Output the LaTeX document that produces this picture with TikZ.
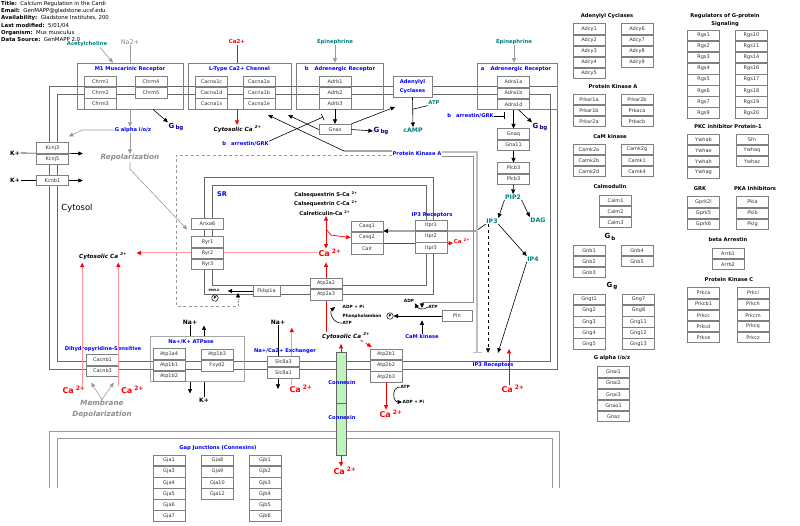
\documentclass[tikz,border=0pt]{standalone}
\usepackage{fontspec}
\setmainfont{DejaVu Sans}
\usetikzlibrary{positioning, backgrounds, arrows.meta, calc}

\definecolor{cxgreen}{RGB}{190,245,190}
\definecolor{gbgblue}{RGB}{0,0,150}
\definecolor{molteal}{RGB}{0,128,128}
\definecolor{lblblue}{RGB}{0,0,255}

\newcommand{\twop}{\hspace{2pt}\textsuperscript{2+}}
\newcommand{\gsub}[1]{G\,\raisebox{-1.6pt}{\fontsize{5.5}{6}\selectfont #1}}

\begin{document}
\begin{tikzpicture}[
  x=1pt, y=-1pt,
  >={Triangle[length=4.5pt,width=4pt]},
  node distance=0pt,
  gene/.style={draw=black!50, fill=white, line width=0.6pt, minimum width=32pt,
               minimum height=10.5pt, inner sep=0pt, text=black!80,
               font=\fontsize{5}{6}\selectfont},
  grp/.style 2 args={draw=black!50, line width=0.7pt, minimum width=#1,
               minimum height=#2, inner sep=0pt},
  ttl/.style={font=\fontsize{5.2}{6.3}\selectfont\bfseries, text=lblblue,
              inner sep=0.5pt, align=center},
  hd/.style={font=\fontsize{5.2}{8}\selectfont\bfseries, inner sep=0.5pt, align=center},
  mol/.style={font=\fontsize{5.3}{6}\selectfont\bfseries, text=molteal, inner sep=0.5pt},
  bigmol/.style={font=\fontsize{6.2}{7}\selectfont\bfseries, text=molteal, inner sep=0.5pt},
  cab/.style={font=\fontsize{8}{9}\selectfont\bfseries, text=red, inner sep=0.5pt},
  cas/.style={font=\fontsize{5.5}{6}\selectfont\bfseries, text=red, inner sep=0.5pt},
  cyt/.style={font=\fontsize{5.7}{6.5}\selectfont\bfseries\itshape, inner sep=0.5pt},
  gl/.style={font=\fontsize{7.2}{10.5}\selectfont\bfseries\itshape, text=black!45,
             inner sep=0.5pt, align=center},
  ion/.style={font=\fontsize{6}{7}\selectfont\bfseries, inner sep=0.5pt},
  gbg/.style={font=\fontsize{7}{8}\selectfont\bfseries, text=gbgblue, inner sep=0.5pt},
  chem/.style={font=\fontsize{4.3}{5}\selectfont\bfseries, inner sep=0.5pt},
  pcirc/.style={draw, circle, inner sep=0pt, minimum size=6.5pt, line width=0.5pt,
                font=\fontsize{4}{4}\selectfont\bfseries},
  mem/.style={draw=black!60, line width=0.7pt},
  arr/.style={->, line width=0.6pt},
  garr/.style={->, black!40, line width=0.6pt},
  karr/.style={-{Triangle[length=4.5pt,width=4pt,color=black]}, draw=black!45, line width=0.6pt},
  gline/.style={draw=black!40, line width=0.6pt},
  rarr/.style={->, red, line width=0.7pt},
  parr/.style={-{Triangle[length=4.5pt,width=4pt,color=red]}, draw=red!40, line width=1pt},
  inh/.style={-{Bar[width=7pt]}, line width=0.6pt},
  ginh/.style={-{Bar[width=9pt]}, draw=black!25, line width=1.2pt},
  dline/.style={draw=black!40, dash pattern=on 3pt off 2.5pt, line width=0.6pt},
]
\useasboundingbox (0,0) rectangle (800,526);

%% ===== HEADER =====
\node[anchor=north west, align=left, inner sep=0pt, font=\fontsize{5.4}{7.1}\selectfont] (info) at (1,1.5)
  {\textbf{Title:}\ \ Calcium Regulation in the Cardi\\
   \textbf{Email:}\ \ GenMAPP@gladstone.ucsf.edu\\
   \textbf{Availability:}\ \ Gladstone Institutes, 200\\
   \textbf{Last modified:}\ \ 5/01/04\\
   \textbf{Organism:}\ \ Mus musculus\\
   \textbf{Data Source:}\ \ GenMAPP 2.0};

%% ===== RECEPTORS ON THE MEMBRANE =====
\node[mol] (ach) at (87,44) {Acetylcholine};
\node[font=\fontsize{6.5}{7}\selectfont, text=black!45, inner sep=0.5pt] (na2) at (130,42) {Na2+};
\node[grp={106pt}{46pt}] (m1) at (130,86) {};
\node[ttl] (m1t) at (130,69) {M1 Muscarinic Receptor};
\node[gene] (Chrm1) at (100.5,81.5) {Chrm1};
\node[gene, below=of Chrm1] (Chrm2) {Chrm2};
\node[gene, below=of Chrm2] (Chrm3) {Chrm3};
\node[gene] (Chrm4) at (151,81.5) {Chrm4};
\node[gene, below=of Chrm4] (Chrm5) {Chrm5};
\node[gbg] (gbgM) at (176,127) {\gsub{bg}};

\node[cas] (catop) at (237,42) {Ca2+};
\node[grp={103pt}{46pt}] (ltype) at (239.5,86) {};
\node[ttl] (ltypet) at (239.5,69) {L-Type Ca2+ Channel};
\node[gene] (Cacna1c) at (211.5,81.5) {Cacna1c};
\node[gene, below=of Cacna1c] (Cacna1d) {Cacna1d};
\node[gene, below=of Cacna1d] (Cacna1s) {Cacna1s};
\node[gene] (Cacna1a) at (259,81.5) {Cacna1a};
\node[gene, below=of Cacna1a] (Cacna1b) {Cacna1b};
\node[gene, below=of Cacna1b] (Cacna1e) {Cacna1e};
\node[cyt] (cytT) at (237.5,129) {Cytosolic Ca\twop};

\node[mol] (epiB) at (335,42) {Epinephrine};
\node[grp={87pt}{46pt}] (adrb) at (339.5,86) {};
\node[ttl] (adrbt) at (340,69) {b\hspace{6pt}Adrenergic Receptor};
\node[gene] (Adrb1) at (335,81.5) {Adrb1};
\node[gene, below=of Adrb1] (Adrb2) {Adrb2};
\node[gene, below=of Adrb2] (Adrb3) {Adrb3};
\node[gene] (Gnas) at (335,129.5) {Gnas};
\node[gbg] (gbgS) at (381,131) {\gsub{bg}};
\node[ttl] (arrB) at (245.5,144) {b\hspace{5pt}arrestin/GRK};

\node[draw=black!50, fill=white, line width=0.7pt, minimum width=39pt, minimum height=21pt,
      inner sep=0pt, ttl, font=\fontsize{5.2}{9}\selectfont\bfseries] (ac) at (412.5,86.5)
    {Adenylyl\\Cyclases};
\node[mol] (atpAC) at (434,103) {ATP};
\node[bigmol] (camp) at (413,130) {cAMP};
\node[ttl] (pka) at (417,154) {Protein Kinase A};

\node[mol] (epiA) at (514,42) {Epinephrine};
\node[grp={80pt}{46pt}] (adra) at (517,86) {};
\node[ttl] (adrat) at (516,69) {a\hspace{6pt}Adrenergic Receptor};
\node[gene] (Adra1a) at (513.5,82) {Adra1a};
\node[gene, below=of Adra1a] (Adra1b) {Adra1b};
\node[gene, below=of Adra1b] (Adra1d) {Adra1d};
\node[ttl] (arrA) at (470.5,116) {b\hspace{5pt}arrestin/GRK};
\node[gbg] (gbgA) at (540,127) {\gsub{bg}};
\node[gene] (Gnaq) at (513.5,134) {Gnaq};
\node[gene, below=of Gnaq] (Gna11) {Gna11};
\node[gene] (plcbA) at (513.5,168) {Plcb3};
\node[gene, below=of plcbA] (plcbB) {Plcb3};
\node[bigmol] (pip2) at (513,197) {PIP2};
\node[bigmol] (ip3) at (492,221) {IP3};
\node[bigmol] (dag) at (538,220) {DAG};
\node[bigmol] (ip4) at (533,259) {IP4};

%% ===== LEFT: K+ CHANNELS =====
\node[gene] (Kcnj3) at (52.5,148) {Kcnj3};
\node[gene, below=of Kcnj3] (Kcnj5) {Kcnj5};
\node[gene] (Kcnb1) at (52.5,180.5) {Kcnb1};
\node[ion] (kL1) at (15,153) {K+};
\node[ion] (kL2) at (15,180.5) {K+};
\node[ttl] (galpha) at (133,130) {G alpha i/o/z};
\node[gl] (repol) at (130,158) {Repolarization};
\node[font=\fontsize{8.4}{9}\selectfont, inner sep=0.5pt] (cytosol) at (77,208) {Cytosol};
\node[cyt] (cytL) at (103,256) {Cytosolic Ca\twop};

%% ===== SR =====
\node[font=\fontsize{6.5}{7}\selectfont\bfseries, text=lblblue, inner sep=0.5pt] (sr) at (222,194) {SR};
\node[hd] (calsS) at (326,195) {Calsequestrin S-Ca\twop};
\node[hd] (calsC) at (326,204) {Calsequestrin C-Ca\twop};
\node[hd] (calr) at (325,213) {Calreticulin-Ca\twop};
\node[gene] (Casq1) at (367,226.5) {Casq1};
\node[gene, below=of Casq1] (Casq2) {Casq2};
\node[gene, below=of Casq2] (Calr) {Calr};
\node[ttl] (ip3rT) at (432,215) {IP3 Receptors};
\node[gene] (Itpr1) at (431,225.5) {Itpr1};
\node[gene, below=of Itpr1] (Itpr2) {Itpr2};
\node[gene, below=of Itpr2] (Itpr3) {Itpr3};
\node[cas] (caI) at (462,241) {Ca\twop};
\node[cab] (caSR) at (330,253) {Ca\twop};
\node[gene] (Anxa6) at (207.5,224) {Anxa6};
\node[gene] (Ryr1) at (207.5,242) {Ryr1};
\node[gene, below=of Ryr1] (Ryr2) {Ryr2};
\node[gene, below=of Ryr2] (Ryr3) {Ryr3};
\node[gene] (Atp2a2) at (326,283.5) {Atp2a2};
\node[gene, below=of Atp2a2] (Atp2a3) {Atp2a3};
\node[gene, minimum width=27pt] (Fkbp1a) at (266.5,291) {Fkbp1a};
\node[font=\fontsize{3}{3}\selectfont\bfseries, inner sep=0.3pt] (pbplx) at (214,290) {PBPLX};
\node[pcirc] (pcircA) at (215,298) {P};

%% ===== PHOSPHOLAMBAN / SERCA =====
\node[chem, anchor=west] (adpA) at (342,307) {ADP + Pi};
\node[chem, anchor=west] (plb) at (342,316) {Phospholamban};
\node[chem, anchor=west] (atpA) at (342,323) {ATP};
\node[pcirc] (pcircB) at (390,316) {P};
\node[chem] (adpB) at (409,301) {ADP};
\node[chem] (atpB) at (433,307) {ATP};
\node[gene, minimum width=30pt] (Pln) at (457,316) {Pln};
\node[ttl] (camk) at (422,337) {CaM kinase};
\node[cyt] (cytM) at (346,336) {Cytosolic Ca\twop};

%% ===== BOTTOM MEMBRANE =====
\node[ttl] (dhp) at (103,349) {Dihydropyridine-Sensitive};
\node[gene] (Cacnb1) at (102.5,360) {Cacnb1};
\node[gene, below=of Cacnb1] (Cacnb3) {Cacnb3};
\node[cab] (caL1) at (74,390) {Ca\twop};
\node[cab] (caL2) at (132.5,390) {Ca\twop};
\node[gl] (memdep) at (102,409) {Membrane\\Depolarization};

\node[grp={94pt}{44pt}, draw=black!35, line width=1pt] (nak) at (197,359) {};
\node[ttl] (nakt) at (191,342) {Na+/K+ ATPase};
\node[gene] (Atp1a4) at (169,354) {Atp1a4};
\node[gene, below=of Atp1a4] (Atp1b1) {Atp1b1};
\node[gene, below=of Atp1b1] (Atp1b2) {Atp1b2};
\node[gene] (Atp1b3) at (217,354.5) {Atp1b3};
\node[gene, below=of Atp1b3] (Fxyd2) {Fxyd2};
\node[ion] (naK) at (190,322) {Na+};
\node[ion] (kK) at (204,400) {K+};

\node[ttl] (ncx) at (285,351) {Na+/Ca2+ Exchanger};
\node[gene] (Slc8a3) at (283.5,361.5) {Slc8a3};
\node[gene, below=of Slc8a3] (Slc8a1) {Slc8a1};
\node[ion] (naX) at (278,322) {Na+};
\node[cab] (caX) at (301,389) {Ca\twop};

\node[draw=black!60, fill=cxgreen, minimum width=10pt, minimum height=51pt, inner sep=0pt] (conA) at (341,377.5) {};
\node[draw=black!60, fill=cxgreen, minimum width=10pt, minimum height=52pt, inner sep=0pt, below=of conA] (conB) {};
\node[ttl] (conAt) at (342,383) {Connexin};
\node[ttl] (conBt) at (342,418) {Connexin};
\node[cab] (caC) at (345,471) {Ca\twop};

\node[gene] (Atp2b1) at (386,354.5) {Atp2b1};
\node[gene, below=of Atp2b1] (Atp2b2) {Atp2b2};
\node[gene, below=of Atp2b2] (Atp2b3) {Atp2b3};
\node[chem, anchor=west] (atpC) at (400,387) {ATP};
\node[chem, anchor=west] (adpC) at (402,402) {ADP + Pi};
\node[cab] (caB) at (391,414) {Ca\twop};
\node[ttl] (ip3rB) at (493,365) {IP3 Receptors};
\node[cab] (caR) at (513,389) {Ca\twop};

%% ===== GAP JUNCTIONS =====
\node[ttl] (gapj) at (218,448) {Gap Junctions (Connexins)};
\node[gene] (Gja1) at (169,460.5) {Gja1};
\node[gene, below=of Gja1] (Gja3) {Gja3};
\node[gene, below=of Gja3] (Gja4) {Gja4};
\node[gene, below=of Gja4] (Gja5) {Gja5};
\node[gene, below=of Gja5] (Gja6) {Gja6};
\node[gene, below=of Gja6] (Gja7) {Gja7};
\node[gene] (Gja8) at (217.5,460.5) {Gja8};
\node[gene, below=of Gja8] (Gja9) {Gja9};
\node[gene, below=of Gja9] (Gja10) {Gja10};
\node[gene, below=of Gja10] (Gja12) {Gja12};
\node[gene] (Gjb1) at (265,460.5) {Gjb1};
\node[gene, below=of Gjb1] (Gjb2) {Gjb2};
\node[gene, below=of Gjb2] (Gjb3) {Gjb3};
\node[gene, below=of Gjb3] (Gjb4) {Gjb4};
\node[gene, below=of Gjb4] (Gjb5) {Gjb5};
\node[gene, below=of Gjb5] (Gjb6) {Gjb6};

%% ===== LEGEND: LEFT COLUMN =====
\node[hd] (lgAdcy) at (607,16) {Adenylyl Cyclases};
\node[gene] (Adcy1) at (589,29) {Adcy1};
\node[gene, below=of Adcy1] (Adcy2) {Adcy2};
\node[gene, below=of Adcy2] (Adcy3) {Adcy3};
\node[gene, below=of Adcy3] (Adcy4) {Adcy4};
\node[gene, below=of Adcy4] (Adcy5) {Adcy5};
\node[gene] (Adcy6) at (637,29) {Adcy6};
\node[gene, below=of Adcy6] (Adcy7) {Adcy7};
\node[gene, below=of Adcy7] (Adcy8) {Adcy8};
\node[gene, below=of Adcy8] (Adcy9) {Adcy9};

\node[hd] (lgPka) at (613,87) {Protein Kinase A};
\node[gene] (Prkar1a) at (589,99.2) {Prkar1a};
\node[gene, below=of Prkar1a] (Prkar1b) {Prkar1b};
\node[gene, below=of Prkar1b] (Prkar2a) {Prkar2a};
\node[gene] (Prkar2b) at (637,99.2) {Prkar2b};
\node[gene, below=of Prkar2b] (Prkaca) {Prkaca};
\node[gene, below=of Prkaca] (Prkacb) {Prkacb};

\node[hd] (lgCamk) at (610,137) {CaM kinase};
\node[gene] (Camk2a) at (589,149.2) {Camk2a};
\node[gene, below=of Camk2a] (Camk2b) {Camk2b};
\node[gene, below=of Camk2b] (Camk2d) {Camk2d};
\node[gene] (Camk2g) at (637,149.2) {Camk2g};
\node[gene, below=of Camk2g] (Camk1) {Camk1};
\node[gene, below=of Camk1] (Camk4) {Camk4};

\node[hd] (lgCalm) at (610,187) {Calmodulin};
\node[gene] (Calm1) at (615.5,200.2) {Calm1};
\node[gene, below=of Calm1] (Calm2) {Calm2};
\node[gene, below=of Calm2] (Calm3) {Calm3};

\node[hd, font=\fontsize{7}{8}\selectfont\bfseries] (lgGb) at (610,237) {\gsub{b}};
\node[gene] (Gnb1) at (589,250.2) {Gnb1};
\node[gene, below=of Gnb1] (Gnb2) {Gnb2};
\node[gene, below=of Gnb2] (Gnb3) {Gnb3};
\node[gene] (Gnb4) at (637,250.2) {Gnb4};
\node[gene, below=of Gnb4] (Gnb5) {Gnb5};

\node[hd, font=\fontsize{7}{8}\selectfont\bfseries] (lgGg) at (612,286) {\gsub{g}};
\node[gene] (Gngt1) at (589,299.5) {Gngt1};
\node[gene, below=of Gngt1] (Gng2) {Gng2};
\node[gene, below=of Gng2] (Gng3) {Gng3};
\node[gene, below=of Gng3] (Gng4) {Gng4};
\node[gene, below=of Gng4] (Gng5) {Gng5};
\node[gene] (Gng7) at (638.5,299.5) {Gng7};
\node[gene, below=of Gng7] (Gng8) {Gng8};
\node[gene, below=of Gng8] (Gng11) {Gng11};
\node[gene, below=of Gng11] (Gng12) {Gng12};
\node[gene, below=of Gng12] (Gng13) {Gng13};

\node[hd] (lgGai) at (612,358) {G alpha i/o/z};
\node[gene] (Gnai1) at (613.5,372) {Gnai1};
\node[gene, below=of Gnai1] (Gnai2) {Gnai2};
\node[gene, below=of Gnai2] (Gnai3) {Gnai3};
\node[gene, below=of Gnai3] (Gnao1) {Gnao1};
\node[gene, below=of Gnao1] (Gnaz) {Gnaz};

%% ===== LEGEND: RIGHT COLUMN =====
\node[hd] (lgRgs) at (725,20) {Regulators of G-protein\\Signaling};
\node[gene] (Rgs1) at (703.5,35.3) {Rgs1};
\node[gene, below=of Rgs1] (Rgs2) {Rgs2};
\node[gene, below=of Rgs2] (Rgs3) {Rgs3};
\node[gene, below=of Rgs3] (Rgs4) {Rgs4};
\node[gene, below=of Rgs4] (Rgs5) {Rgs5};
\node[gene, below=of Rgs5] (Rgs6) {Rgs6};
\node[gene, below=of Rgs6] (Rgs7) {Rgs7};
\node[gene, below=of Rgs7] (Rgs9) {Rgs9};
\node[gene] (Rgs10) at (751.5,35.3) {Rgs10};
\node[gene, below=of Rgs10] (Rgs11) {Rgs11};
\node[gene, below=of Rgs11] (Rgs14) {Rgs14};
\node[gene, below=of Rgs14] (Rgs16) {Rgs16};
\node[gene, below=of Rgs16] (Rgs17) {Rgs17};
\node[gene, below=of Rgs17] (Rgs18) {Rgs18};
\node[gene, below=of Rgs18] (Rgs19) {Rgs19};
\node[gene, below=of Rgs19] (Rgs20) {Rgs20};

\node[hd] (lgPkci) at (728,127) {PKC inhibitor Protein-1};
\node[gene] (Ywhab) at (703.5,139.3) {Ywhab};
\node[gene, below=of Ywhab] (Ywhae) {Ywhae};
\node[gene, below=of Ywhae] (Ywhah) {Ywhah};
\node[gene, below=of Ywhah] (Ywhag) {Ywhag};
\node[gene] (Sfn) at (752,139.3) {Sfn};
\node[gene, below=of Sfn] (Ywhaq) {Ywhaq};
\node[gene, below=of Ywhaq] (Ywhaz) {Ywhaz};

\node[hd] (lgGrk) at (700,189) {GRK};
\node[gene] (Gprk2l) at (703.5,202) {Gprk2l};
\node[gene, below=of Gprk2l] (Gprk5) {Gprk5};
\node[gene, below=of Gprk5] (Gprk6) {Gprk6};
\node[hd] (lgPki) at (755,189) {PKA Inhibitors};
\node[gene] (Pkia) at (752.5,202) {Pkia};
\node[gene, below=of Pkia] (Pkib) {Pkib};
\node[gene, below=of Pkib] (Pkig) {Pkig};

\node[hd] (lgArrb) at (728,240) {beta Arrestin};
\node[gene] (Arrb1) at (728,253.3) {Arrb1};
\node[gene, below=of Arrb1] (Arrb2) {Arrb2};

\node[hd] (lgPkc) at (729,280) {Protein Kinase C};
\node[gene] (Prkca) at (703.5,293) {Prkca};
\node[gene, below=of Prkca] (Prkcb1) {Prkcb1};
\node[gene, below=of Prkcb1] (Prkcc) {Prkcc};
\node[gene, below=of Prkcc] (Prkcd) {Prkcd};
\node[gene, below=of Prkcd] (Prkce) {Prkce};
\node[gene] (Prkci) at (753,293) {Prkci};
\node[gene, below=of Prkci] (Prkch) {Prkch};
\node[gene, below=of Prkch] (Prkcm) {Prkcm};
\node[gene, below=of Prkcm] (Prkcq) {Prkcq};
\node[gene, below=of Prkcq] (Prkcz) {Prkcz};

%% ===== HELPER POINTS =====
\coordinate (ltA) at (268,115);
\coordinate (ltB) at (288,115);
\coordinate (adrbBar) at (323,117);
\coordinate (acIn) at (395,107);
\coordinate (adraBar) at (505,116);
\coordinate (ip3bend) at (476,231);
\coordinate (pkaC) at (176,306);
\coordinate (pkaD) at (238,306);
\coordinate (pkaDn) at (473,302);
\coordinate (plnK) at (422,302);
\coordinate (cytLtip) at ([xshift=9pt]cytL.east);
\coordinate (caSRt) at ([xshift=-4pt]caSR.north);
\coordinate (caSRb) at ([xshift=-4pt]caSR.south);
\coordinate (calrIn) at (caSRt |- calr.south);
\coordinate (caXt) at ([xshift=3pt]caX.north west);
\coordinate (caRt) at ([xshift=-4pt]caR.north);
\coordinate (caL1t) at ([xshift=-4pt]caL1.north east);
\coordinate (caL2t) at ([xshift=-2pt]caL2.north west);

%% ===== MEMBRANES & LINES UNDER THE BOXES =====
\begin{pgfonlayer}{background}
  \draw[mem] (49,86) rectangle (557,369);
  \draw[mem] (57,94) rectangle (550,361);
  \draw[mem] (204,177) rectangle (433,294);
  \draw[mem] (212,185) rectangle (426,285);
  \draw[mem, draw=black!40] (49,488) |- (559,431) -- (559,488);
  \draw[mem, draw=black!40] (57,488) |- (552,438) -- (552,488);

  \draw[arr] (kL1.east) -- ([xshift=14pt]Kcnj3.south east);
  \draw[arr] (kL2.east) -- ([xshift=14pt]Kcnb1.east);
  \draw[parr] (caSR.west) -- (caSR.west -| cytLtip);
  \draw[rarr] (Casq2.south east) -- (Casq2.south east -| caI.west);
  \draw[arr] (ip3.south west) -- (ip3bend) -- (ip3bend -| Casq1.east);
  \draw[rarr] (caSRb |- cytM.north) -- ([yshift=-5pt]caSRb);
  \draw[arr] (naX.south) -- ++(0,64);
  \draw[parr] (caXt) -- ++(0,-57);
\end{pgfonlayer}

%% ===== ARROWS =====
\draw[garr] ([xshift=-8pt]ach.south east) -- ([xshift=-17pt]m1.north);
\draw[gline] (na2.south) -- (na2.south |- m1.north);
\draw[garr] (m1.south) -- (m1.south |- galpha.north);
\draw[arr] ([xshift=23pt]m1.south) -- (gbgM.north west);
\draw[garr] (galpha.west) -- ++(-32,0) -- ([yshift=6pt]Kcnj3.north east);
\draw[garr] (repol.north |- galpha.south) -- (repol.north);
\draw[garr] (repol.south) -- ++(0,7) -- ([xshift=-4pt]Anxa6.south west);

\draw[red, line width=0.7pt] (catop.south) -- (catop.south |- ltype.north);
\draw[rarr] (ltype.south -| catop.south) -- (cytT.north -| catop.south);
\draw[arr] (Gnas.west) -- (ltB);
\draw[arr] ([yshift=3pt]pka.west) -- ++(-48,0) -- (ltA);
\draw[inh] (arrB.north east) -- (adrbBar);
\draw[garr] (epiB.south) -- (epiB.south |- adrb.north);
\draw[arr] (Adrb3.south) -- (Gnas.north);
\draw[arr] (Gnas.east) -- (gbgS.west);
\draw[arr] (Gnas.north east) -- (acIn);

\draw[arr] (ac.south) -- (camp.north);
\draw[line width=0.6pt] (atpAC.south west) -- ($(ac.south)!0.4!(camp.north)$);

\draw[garr] (epiA.south) -- (epiA.south |- adra.north);
\draw[arr] (Adra1d.south) -- (Gnaq.north);
\draw[inh] (arrA.east) -- (adraBar);
\draw[arr] ([xshift=5pt]Adra1d.south) -- (gbgA.north west);
\draw[arr] (Gna11.south) -- (plcbA.north);
\draw[arr] (plcbB.south) -- (pip2.north);
\draw[arr] (pip2.south west) -- (ip3.north east);
\draw[arr] (pip2.south east) -- (dag.north west);
\draw[arr] (ip3.south east) -- (ip4.north west);
\draw[arr] (ip4.south west) -- ([xshift=5pt,yshift=9pt]ip3rB.north);
\draw[arr, dashed] ([xshift=-4pt]ip3.south) -- ([xshift=-5pt,yshift=9pt]ip3rB.north);

\draw[dline] ([yshift=-1pt]pka.west) -| (pkaC) -- (pkaD);
\draw[karr, densely dotted] (pkaD) -- ++(0,-13);
\draw[arr] (Fkbp1a.west) -- ++(-25,0);
\draw[ginh] ([yshift=2pt]pka.east) -| ([xshift=-16pt,yshift=9pt]ip3rB.north);
\draw[karr] ([yshift=-2pt]pka.east) -| (pkaDn) -- (plnK) -- ++(0,6);

\draw[<->, red, line width=0.7pt] (calrIn) -- (caSRt);
\draw[rarr] ($(calrIn)!0.4!(caSRt)$) -- ++(5,6) -- (Casq2.west);
\draw[parr] (caL1t) -- ++(0,-123);
\draw[parr] (caL2t) -- ++(0,-123);
\draw[garr] (memdep.north) -- ([xshift=5pt,yshift=-6pt]Cacnb3.south west);
\draw[garr] (memdep.north) -- ([xshift=-5pt,yshift=-6pt]Cacnb3.south east);

\draw[arr] (atpA.west) .. controls +(-9,1) and +(-6,5) .. ([xshift=-7pt]adpA.west);
\draw[arr] (Pln.west) -- (pcircB.east);
\draw[arr] (camk.north) -- ++(0,-14);
\draw[arr] (atpB.west) .. controls +(-4,4) and +(3,5) .. (adpB.south east);

\draw[rarr, dashed] ([xshift=-10pt]cytM.south east) -- ([xshift=2pt,yshift=2pt]Atp2b1.north west);
\draw[rarr] (Atp2b3.south) -- (Atp2b3.south |- caB.north);
\draw[arr] (atpC.west) .. controls +(-9,0) and +(-9,0) .. (adpC.west);
\draw[rarr] (caRt) -- (caRt |- Atp2b1.north);
\draw[rarr] (conA.north) -- ++(0,-8);
\draw[rarr] (conB.south) -- (conB.south |- caC.north);

\draw[line width=0.6pt] (naK.south) -- (naK.south |- nak.north);
\draw[arr] (kK.north |- nak.north) -- ++(0,-11);
\draw[arr] (naK.south |- nak.south) -- ++(0,12);
\draw[line width=0.6pt] (kK.north) -- (kK.north |- nak.south);

\end{tikzpicture}
\end{document}
